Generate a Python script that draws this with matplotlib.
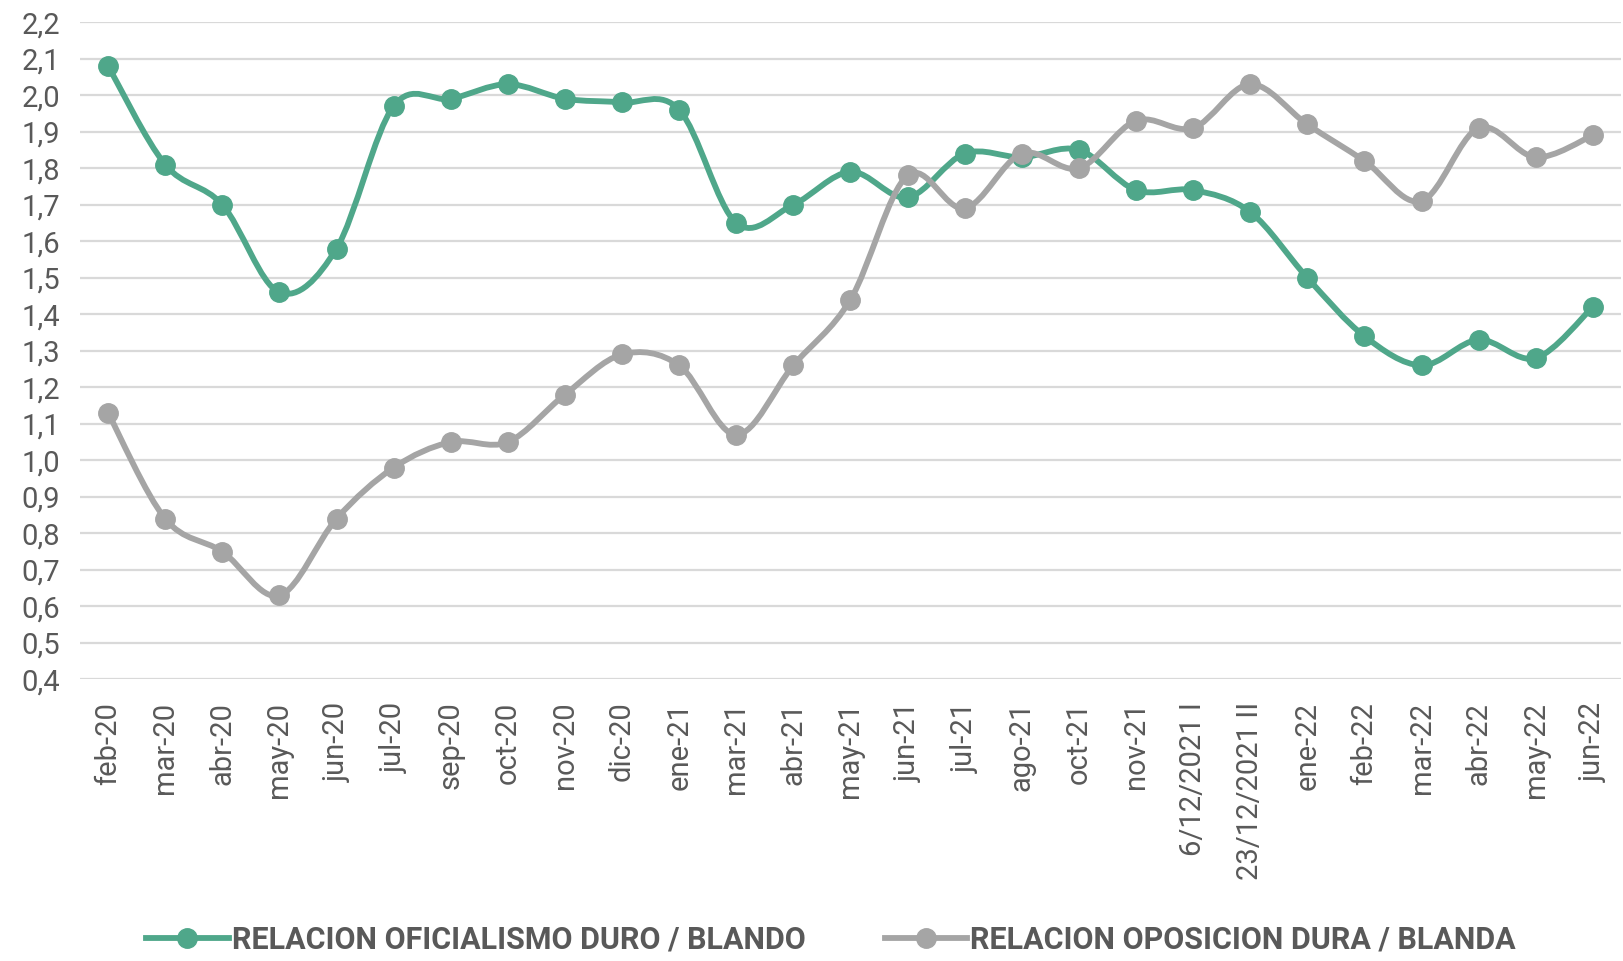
import numpy as np
import matplotlib
matplotlib.use("Agg")
import matplotlib.pyplot as plt
from matplotlib.path import Path
from matplotlib.patches import PathPatch
from matplotlib.lines import Line2D
import matplotlib.ticker as ticker

# Datos
meses = ["feb-20", "mar-20", "abr-20", "may-20", "jun-20", "jul-20", "sep-20",
         "oct-20", "nov-20", "dic-20", "ene-21", "mar-21", "abr-21", "may-21",
         "jun-21", "jul-21", "ago-21", "oct-21", "nov-21", "6/12/2021 I",
         "23/12/2021 II", "ene-22", "feb-22", "mar-22", "abr-22", "may-22", "jun-22"]

oficialismo = [2.08, 1.81, 1.70, 1.46, 1.58, 1.97, 1.99, 2.03, 1.99, 1.98, 1.96,
               1.65, 1.70, 1.79, 1.72, 1.84, 1.83, 1.85, 1.74, 1.74, 1.68,
               1.50, 1.34, 1.26, 1.33, 1.28, 1.42]

oposicion = [1.13, 0.84, 0.75, 0.63, 0.84, 0.98, 1.05, 1.05, 1.18, 1.29, 1.26,
             1.07, 1.26, 1.44, 1.78, 1.69, 1.84, 1.80, 1.93, 1.91, 2.03,
             1.92, 1.82, 1.71, 1.91, 1.83, 1.89]

etiquetas = ["RELACION OFICIALISMO DURO / BLANDO", "RELACION OPOSICION DURA / BLANDA"]

VERDE = "#4fa78a"
GRIS = "#a5a5a5"
TEXTO = "#595959"

plt.rcParams['font.family'] = ['Liberation Sans Narrow', 'Roboto', 'DejaVu Sans']


def curva_suave(x, y):
    # Curva tipo Excel (Catmull-Rom) dibujada con Bezier cubicas
    pts = np.column_stack([x, y]).astype(float)
    n = len(pts)
    verts = [pts[0]]
    codes = [Path.MOVETO]
    for i in range(n - 1):
        p0 = pts[i - 1] if i > 0 else pts[i]
        p1 = pts[i]
        p2 = pts[i + 1]
        p3 = pts[i + 2] if i + 2 < n else pts[i + 1]
        c1 = p1 + (p2 - p0) / 6.0
        c2 = p2 - (p3 - p1) / 6.0
        verts += [c1, c2, p2]
        codes += [Path.CURVE4] * 3
    return Path(verts, codes)


fig = plt.figure(figsize=(16.23, 9.61), dpi=100)
ax = fig.add_axes([0.049, 0.293, 0.950, 0.684])

x = np.arange(len(meses))
for serie, color, z in [(oficialismo, VERDE, 2), (oposicion, GRIS, 3)]:
    ax.add_patch(PathPatch(curva_suave(x, serie), facecolor="none", edgecolor=color,
                           linewidth=4.2, zorder=z, capstyle="round", joinstyle="round"))
    ax.plot(x, serie, linestyle="none", marker="o", markersize=14,
            color=color, zorder=z + 0.5)

ax.set_xlim(-0.5, len(meses) - 0.5)
ax.set_ylim(0.4, 2.2)
ax.set_yticks(np.arange(0.4, 2.21, 0.1))
ax.yaxis.set_major_formatter(ticker.FuncFormatter(lambda v, pos: f"{v:.1f}".replace(".", ",")))
ax.set_xticks(x)
ax.set_xticklabels(meses, rotation=90)

ax.grid(True, axis="y", color="#d9d9d9", linewidth=1.6, zorder=0)
ax.set_axisbelow(True)
for spine in ax.spines.values():
    spine.set_visible(False)
ax.tick_params(axis="both", length=0, labelsize=21, labelcolor=TEXTO)
ax.tick_params(axis="y", pad=14)
ax.tick_params(axis="x", pad=16)

handles = [Line2D([], [], color=VERDE, linewidth=4.2, marker="o", markersize=14),
           Line2D([], [], color=GRIS, linewidth=4.2, marker="o", markersize=14)]
fig.legend(handles, etiquetas, loc="lower center", bbox_to_anchor=(0.512, -0.022),
           ncol=2, frameon=False, handlelength=2.7, handletextpad=0.1,
           columnspacing=2.6, prop={"size": 22, "weight": "bold"}, labelcolor=TEXTO)

fig.savefig("out.png", dpi=100, facecolor="white")
